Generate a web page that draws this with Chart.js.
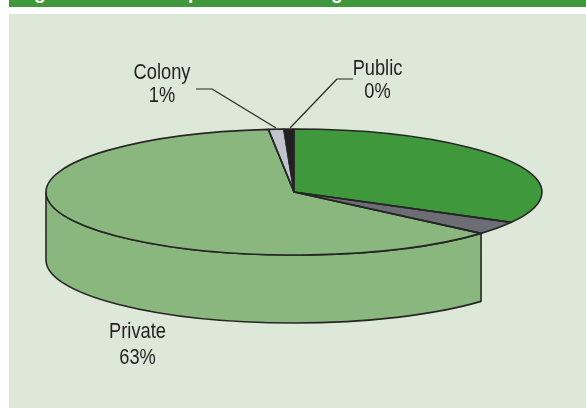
<!DOCTYPE html>
<html lang="en">
  <head>
    <meta charset="utf-8" />
    <title>Ownership pie</title>
    <style>
      * {
        margin: 0;
        padding: 0;
      }
      body {
        width: 586px;
        height: 408px;
        background: #fff;
        overflow: hidden;
        position: relative;
      }
      .titleBar {
        position: absolute;
        left: 9px;
        top: 0;
        width: 577px;
        height: 7px;
        background: #40983c;
        overflow: hidden;
      }
      .titleBar span {
        position: absolute;
        top: -17px;
        color: #fff;
        font: bold 19px "Liberation Sans", sans-serif;
        line-height: 20px;
      }
      .panel {
        position: absolute;
        left: 9px;
        top: 14px;
        width: 577px;
        height: 394px;
        background: #dde8d8;
      }
      canvas {
        position: absolute;
        left: 0;
        top: 0;
      }
    </style>
  </head>
  <body>
    <div class="titleBar">
      <span style="left: 25px">g</span>
      <span style="left: 179px">p</span>
      <span style="left: 322px">g</span>
    </div>
    <div class="panel"></div>
    <canvas id="myChart" width="586" height="408"></canvas>

    <script src="https://cdn.jsdelivr.net/npm/chart.js"></script>
    <script>
      // data block, the two unnamed slices have no label in the picture
      const categories = ["", "", "Private", "Colony", "Public"];
      const sliceValues = [33, 3.4, 61.95, 1.0, 0.65];
      const percentLabels = ["", "", "63%", "1%", "0%"];
      const sliceColors = ["#3f983c", "#6d6e75", "#8ab77e", "#c1c3cd", "#231f20"];

      // squashed disc geometry
      const disc = { x: 294, y: 192, rx: 248, ry: 63, depth: 68 };
      const outline = "#262626";

      const labelSpots = {
        Private: { x: 137.5, y: 338, gap: 26 },
        Colony: { x: 162, y: 79, gap: 23 },
        Public: { x: 377.5, y: 75, gap: 23 },
      };
      const leaders = [
        [[196, 89], [212, 89], [276, 128]],
        [[353, 79], [337, 79], [290, 128]],
      ];

      // no condensed font installed, so squeeze the normal one sideways
      const narrowText = (ctx, text, x, y) => {
        ctx.save();
        ctx.translate(x, y);
        ctx.scale(0.83, 1);
        ctx.fillText(text, 0, 0);
        ctx.restore();
      };

      // draws the wall first, then squashes the arcs chart.js paints
      const tiltedDisc = {
        id: "tiltedDisc",
        beforeDatasetsDraw(chart) {
          const { ctx } = chart;
          const arcs = chart.getDatasetMeta(0).data;
          const wall = arcs[categories.indexOf("Private")];

          ctx.save();
          ctx.lineWidth = 1.6;
          ctx.lineJoin = "round";
          ctx.strokeStyle = outline;
          ctx.fillStyle = sliceColors[2];
          ctx.beginPath();
          ctx.ellipse(disc.x, disc.y, disc.rx, disc.ry, 0, wall.startAngle, Math.PI);
          ctx.ellipse(disc.x, disc.y + disc.depth, disc.rx, disc.ry, 0, Math.PI, wall.startAngle, true);
          ctx.closePath();
          ctx.fill();
          ctx.stroke();
          ctx.restore();

          const r = arcs[0].outerRadius;
          ctx.save();
          ctx.translate(disc.x, disc.y);
          ctx.scale(disc.rx / r, disc.ry / r);
          ctx.translate(-arcs[0].x, -arcs[0].y);
        },
        afterDatasetsDraw(chart) {
          const { ctx } = chart;
          ctx.restore();

          ctx.save();
          ctx.lineWidth = 1.6;
          ctx.lineJoin = "round";
          ctx.strokeStyle = outline;
          chart.getDatasetMeta(0).data.forEach((arc) => {
            ctx.beginPath();
            ctx.moveTo(disc.x, disc.y);
            ctx.ellipse(disc.x, disc.y, disc.rx, disc.ry, 0, arc.startAngle, arc.endAngle);
            ctx.closePath();
            ctx.stroke();
          });

          ctx.lineWidth = 1.2;
          leaders.forEach((pts) => {
            ctx.beginPath();
            pts.forEach(([x, y], i) => (i ? ctx.lineTo(x, y) : ctx.moveTo(x, y)));
            ctx.stroke();
          });

          ctx.fillStyle = "#231f20";
          ctx.font = '22px "Liberation Sans", sans-serif';
          ctx.textAlign = "center";
          categories.forEach((name, i) => {
            const spot = labelSpots[name];
            if (!spot) return;
            narrowText(ctx, name, spot.x, spot.y);
            narrowText(ctx, percentLabels[i], spot.x, spot.y + spot.gap);
          });
          ctx.restore();
        },
      };

      // config block
      const config = {
        type: "pie",
        data: {
          labels: categories,
          datasets: [
            {
              data: sliceValues,
              backgroundColor: sliceColors,
              borderWidth: 0,
            },
          ],
        },
        options: {
          responsive: false,
          animation: false,
          plugins: {
            legend: { display: false },
            tooltip: { enabled: false },
          },
        },
        plugins: [tiltedDisc],
      };

      const myChart = new Chart(document.getElementById("myChart"), config);
    </script>
  </body>
</html>
